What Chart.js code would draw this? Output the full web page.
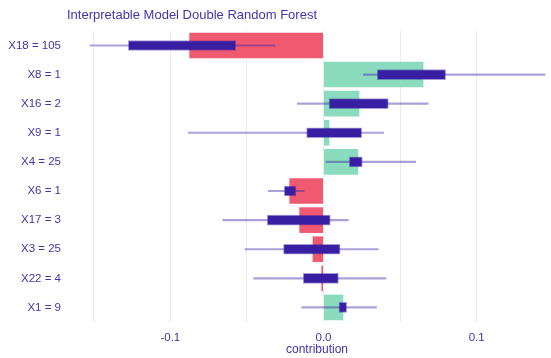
<!DOCTYPE html>
<html>
<head>
<meta charset="utf-8">
<script src="https://cdn.jsdelivr.net/npm/chart.js@4/dist/chart.umd.min.js"></script>
<style>
html,body{margin:0;padding:0;background:#fff;}
#wrap{position:relative;width:551px;height:358px;}
</style>
</head>
<body>
<div id="wrap"><canvas id="c" width="551" height="358"></canvas></div>
<script>
const chartTitle = 'Interpretable Model Double Random Forest';
const axisTitle = 'contribution';
const categories = ['X18 = 105','X8 = 1','X16 = 2','X9 = 1','X4 = 25','X6 = 1','X17 = 3','X3 = 25','X22 = 4','X1 = 9'];
const contributions = [-0.0876, 0.0652, 0.0234, 0.0038, 0.0227, -0.0223, -0.0158, -0.0071, -0.0014, 0.0129];
const whiskerMin = [-0.1524, 0.0260, -0.0171, -0.0882, 0.0016, -0.0360, -0.0657, -0.0513, -0.0456, -0.0142];
const whiskerMax = [-0.0317, 0.1446, 0.0684, 0.0392, 0.0602, -0.0127, 0.0162, 0.0357, 0.0408, 0.0346];
const boxLow = [-0.1274, 0.0351, 0.0036, -0.0110, 0.0168, -0.0256, -0.0367, -0.0261, -0.0132, 0.0101];
const boxHigh = [-0.0573, 0.0797, 0.0423, 0.0249, 0.0253, -0.0180, 0.0044, 0.0108, 0.0097, 0.0151];
const gridValues = [-0.15, -0.1, -0.05, 0, 0.05, 0.1];
const labeledTicks = [-0.1, 0, 0.1];

const PURPLE = '#371ea3';
const TEXT = '#4533a8';
const RED = '#f05a71';
const GREEN = '#8bdcbe';

const titlePlugin = {
  id: 'leftTitle',
  afterDraw(chart) {
    const ctx = chart.ctx;
    ctx.save();
    ctx.font = '13px "Liberation Sans", Arial, sans-serif';
    ctx.fillStyle = TEXT;
    ctx.textBaseline = 'middle';
    ctx.textAlign = 'left';
    ctx.fillText(chartTitle, 67, 15.5);
    ctx.restore();
  }
};

new Chart(document.getElementById('c'), {
  type: 'bar',
  data: {
    labels: categories,
    datasets: [
      {
        data: contributions,
        backgroundColor: contributions.map(v => v < 0 ? RED : GREEN),
        categoryPercentage: 1,
        barPercentage: 0.88,
        grouped: false,
        order: 3
      },
      {
        data: whiskerMin.map((v, i) => [v, whiskerMax[i]]),
        backgroundColor: 'rgba(55,30,163,0.42)',
        barThickness: 1.5,
        grouped: false,
        order: 2
      },
      {
        data: boxLow.map((v, i) => [v, boxHigh[i]]),
        backgroundColor: PURPLE,
        borderColor: 'rgba(55,30,163,0.45)',
        borderWidth: 1,
        borderSkipped: false,
        barThickness: 10,
        grouped: false,
        order: 1
      }
    ]
  },
  options: {
    indexAxis: 'y',
    responsive: false,
    animation: false,
    devicePixelRatio: 1,
    layout: { padding: { top: 22, right: 2, left: 0, bottom: 0 } },
    plugins: { legend: { display: false }, tooltip: { enabled: false }, title: { display: false } },
    scales: {
      x: {
        min: -0.1557,
        max: 0.1472,
        afterBuildTicks: s => { s.ticks = gridValues.map(v => ({ value: v })); },
        afterFit: s => { s.height = 36; },
        grid: { color: '#ececec', lineWidth: 1, drawTicks: false },
        border: { display: false },
        ticks: {
          padding: 9,
          color: TEXT,
          font: { family: '"Liberation Sans", Arial, sans-serif', size: 11.5 },
          callback: v => labeledTicks.some(t => Math.abs(t - v) < 1e-9) ? v.toFixed(1) : ''
        },
        title: {
          display: true,
          text: axisTitle,
          color: TEXT,
          font: { family: '"Liberation Sans", Arial, sans-serif', size: 12 },
          padding: { top: 0, bottom: 1 }
        }
      },
      y: {
        afterFit: s => { s.width = 85; },
        grid: { display: false, drawTicks: false },
        border: { display: false },
        ticks: {
          padding: 24,
          color: TEXT,
          font: { family: '"Liberation Sans", Arial, sans-serif', size: 11.5 }
        }
      }
    }
  },
  plugins: [titlePlugin]
});
</script>
</body>
</html>
